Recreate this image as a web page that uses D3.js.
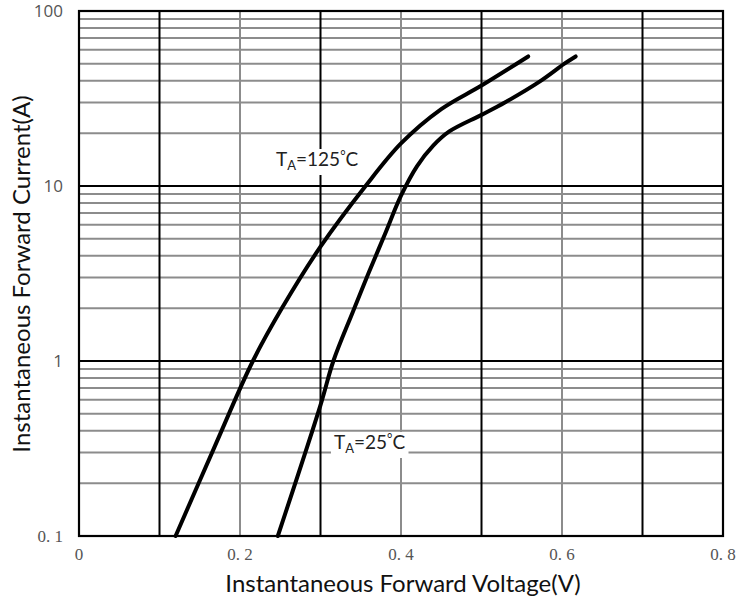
<!DOCTYPE html>
<html>
<head>
<meta charset="utf-8">
<script src="https://cdn.jsdelivr.net/npm/d3@7"></script>
<style>
  body { margin: 0; background: #fff; }
  svg { display: block; }
</style>
</head>
<body>
<div id="chart"></div>
<script>
"use strict";

// forward voltage (V) / forward current (A)
var volts125 = [0.12, 0.168, 0.216, 0.252, 0.30, 0.356, 0.40, 0.45, 0.50, 0.558];
var amps125  = [0.1, 0.32, 1, 2, 4.5, 10, 17.5, 27.5, 37.5, 55];
var volts25  = [0.247, 0.30, 0.316, 0.34, 0.36, 0.38, 0.40, 0.42, 0.44, 0.46, 0.50, 0.529, 0.574, 0.603, 0.617];
var amps25   = [0.1, 0.56, 1, 1.9, 3.2, 5.3, 8.8, 13, 17, 20.5, 25.5, 30, 40, 50, 55];

var xTicks = [0, 0.2, 0.4, 0.6, 0.8];
var xTickLabels = ["0", "0. 2", "0. 4", "0. 6", "0. 8"];
var yTicks = [0.1, 1, 10, 100];
var yTickLabels = ["0. 1", "1", "10", "100"];

var width = 739, height = 600;
var plotLeft = 79, plotRight = 723, plotTop = 11, plotBottom = 536;

var svg = d3.select("#chart").append("svg")
	.attr("width", width)
	.attr("height", height);

var x = d3.scaleLinear().domain([0, 0.8]).range([plotLeft, plotRight]);
var y = d3.scaleLog().domain([0.1, 100]).range([plotBottom, plotTop]);

// horizontal grid: minor lines grey, decades black
var minorY = [];
var decade, m;
for (decade = 0.1; decade < 99; decade *= 10) {
	for (m = 2; m <= 9; m++) {
		minorY.push(decade * m);
	}
}
var grid = svg.append("g");
grid.selectAll("line.minor-y")
	.data(minorY)
	.enter().append("line")
	.attr("x1", plotLeft).attr("x2", plotRight)
	.attr("y1", function(d) { return y(d); })
	.attr("y2", function(d) { return y(d); })
	.attr("stroke", "#8c8c8c")
	.attr("stroke-width", 2);

// vertical grid: odd tenths black, even tenths grey
var gridX = [0.1, 0.2, 0.3, 0.4, 0.5, 0.6, 0.7];
grid.selectAll("line.vx")
	.data(gridX)
	.enter().append("line")
	.attr("y1", plotTop).attr("y2", plotBottom)
	.attr("x1", function(d) { return x(d); })
	.attr("x2", function(d) { return x(d); })
	.attr("stroke", function(d, i) { return i % 2 === 0 ? "#000" : "#8c8c8c"; })
	.attr("stroke-width", 2);

grid.selectAll("line.major-y")
	.data([1, 10])
	.enter().append("line")
	.attr("x1", plotLeft).attr("x2", plotRight)
	.attr("y1", function(d) { return y(d); })
	.attr("y2", function(d) { return y(d); })
	.attr("stroke", "#000")
	.attr("stroke-width", 2);

svg.append("rect")
	.attr("x", plotLeft).attr("y", plotTop)
	.attr("width", plotRight - plotLeft).attr("height", plotBottom - plotTop)
	.attr("fill", "none")
	.attr("stroke", "#000")
	.attr("stroke-width", 2.2);

// curves
var line = d3.line()
	.x(function(d) { return x(d[0]); })
	.y(function(d) { return y(d[1]); })
	.curve(d3.curveCatmullRom.alpha(0.5));

var series = [d3.zip(volts125, amps125), d3.zip(volts25, amps25)];
svg.selectAll("path.curve")
	.data(series)
	.enter().append("path")
	.attr("d", line)
	.attr("fill", "none")
	.attr("stroke", "#000")
	.attr("stroke-width", 4)
	.attr("stroke-linecap", "round");

// curve labels with white boxes behind
function curveLabel(px, py, temp) {
	var g = svg.append("g").attr("transform", "translate(" + px + "," + py + ")");
	var bg = g.append("rect").attr("fill", "#fff");
	var t = g.append("text")
		.attr("font-family", "Lato, sans-serif")
		.attr("font-size", 19)
		.attr("fill", "#222");
	t.append("tspan").text("T");
	t.append("tspan").attr("font-size", 13).attr("dy", 4).text("A");
	t.append("tspan").attr("dy", -4).text("=" + temp);
	t.append("tspan").attr("font-size", 13).attr("dy", -6).text("°");
	t.append("tspan").attr("dy", 6).text("C");
	var bb = t.node().getBBox();
	bg.attr("x", bb.x - 3).attr("y", bb.y + 2)
		.attr("width", bb.width + 6).attr("height", bb.height);
	return g;
}
curveLabel(276, 166, "125");
curveLabel(334, 449, "25");

// tick labels
svg.selectAll("text.xtick")
	.data(xTicks)
	.enter().append("text")
	.attr("x", function(d) { return x(d); })
	.attr("y", 560)
	.attr("text-anchor", "middle")
	.attr("font-family", "'Liberation Serif', serif")
	.attr("font-size", 17)
	.attr("fill", "#555")
	.text(function(d, i) { return xTickLabels[i]; });

svg.selectAll("text.ytick")
	.data(yTicks)
	.enter().append("text")
	.attr("x", 63)
	.attr("y", function(d) { return y(d) + 6; })
	.attr("text-anchor", "end")
	.attr("font-family", function(d) { return d < 1 ? "'Liberation Serif', serif" : "'Open Sans', sans-serif"; })
	.attr("font-size", function(d) { return d < 1 ? 17 : 17; })
	.attr("fill", "#555")
	.text(function(d, i) { return yTickLabels[i]; });

// axis titles
svg.append("text")
	.attr("x", 403)
	.attr("y", 592)
	.attr("text-anchor", "middle")
	.attr("font-family", "Lato, sans-serif")
	.attr("font-size", 24)
	.attr("fill", "#111")
	.text("Instantaneous Forward Voltage(V)");

svg.append("text")
	.attr("transform", "translate(30,274) rotate(-90)")
	.attr("text-anchor", "middle")
	.attr("font-family", "Lato, sans-serif")
	.attr("font-size", 24)
	.attr("fill", "#111")
	.text("Instantaneous Forward Current(A)");
</script>
</body>
</html>
